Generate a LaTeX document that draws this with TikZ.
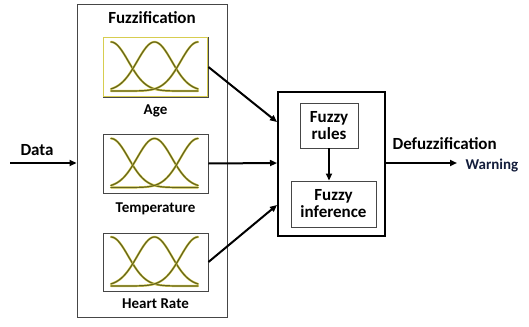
\documentclass[tikz,border=0pt]{standalone}
\usepackage{fontspec}
\setmainfont{Carlito}
\usetikzlibrary{arrows.meta}

\definecolor{curveolive}{RGB}{100,100,30}
\definecolor{curveglow}{RGB}{215,205,80}
\definecolor{frameGray}{RGB}{70,70,70}
\definecolor{warnInk}{RGB}{20,30,60}

\tikzset{
  big/.style={font=\bfseries\fontsize{17}{18}\selectfont},
  small/.style={font=\bfseries\fontsize{15}{17}\selectfont},
  mfbox/.style={draw=frameGray, line width=0.9pt, minimum width=105pt, inner sep=0pt},
  plainbox/.style={draw=frameGray, line width=0.9pt, inner sep=0pt, align=center,
    font=\bfseries\fontsize{17}{18}\selectfont},
  flow/.style={line width=2pt, -{Triangle[length=7pt,width=6pt]}},
  declare function={bell(\t,\m)=exp(0-((\t-\m)/24.5)*((\t-\m)/24.5));},
}

\begin{document}
\begin{tikzpicture}[x=1pt, y=-1pt]
\useasboundingbox (0,0) rectangle (529,326);

% fuzzification frame
\node[draw=frameGray, line width=0.9pt, minimum width=150pt, minimum height=313pt, inner sep=0pt]
  (fz) at (152,160.5) {};
\node[big, anchor=base] (fztitle) at (152,24) {Fuzzification};

% membership boxes
\node[mfbox, minimum height=60pt] (age) at (155.5,67) {};
\node[mfbox, minimum height=59pt] (temp) at (155.5,163.5) {};
\node[mfbox, minimum height=58pt] (hr) at (155.5,262) {};
\draw[curveglow, line width=0.8pt] ([shift={(1.3,1.3)}]age.north west) rectangle ([shift={(-1.3,-1.3)}]age.south east);

\node[small, anchor=base] (agel) at (155.5,114) {Age};
\node[small, anchor=base] (templ) at (155.5,212) {Temperature};
\node[small, anchor=base] (hrl) at (155.5,308) {Heart Rate};

% three bell-shaped membership functions per box
\foreach \cy in {67, 163.5, 262}{
  \foreach \mu in {111,154.5,198}{
    \draw[curveglow, line width=2.2pt, line cap=round]
      plot[variable=\t, domain=111:198, samples=90, smooth]
      (\t,{\cy+24-49*bell(\t,\mu)});
    \draw[curveolive, line width=1.2pt, line cap=round]
      plot[variable=\t, domain=111:198, samples=90, smooth]
      (\t,{\cy+24-49*bell(\t,\mu)});
  }
}

% inference engine
\node[draw, line width=2pt, minimum width=107pt, minimum height=144pt, inner sep=0pt]
  (eng) at (331.5,164) {};
\node[plainbox, minimum width=58pt, minimum height=45pt] (rules) at (329,125.5)
  {Fuzzy\\[-1pt]rules};
\node[plainbox, minimum width=85pt, minimum height=46pt] (inf) at (333.5,204)
  {Fuzzy\\[-1pt]inference};

\coordinate (inA) at (eng.west |- 0,122);
\coordinate (inB) at (eng.west |- 0,163);
\coordinate (inC) at (eng.west |- 0,205);
\coordinate (dataStart) at (10,163);
\coordinate (outEnd) at (457,163);

% connectors
\draw[flow] (age.east) -- (inA);
\draw[flow] (temp.east) -- (inB);
\draw[flow] (hr.east) -- (inC);
\draw[flow] (rules.south) -- (rules.south |- inf.north);
\draw[flow] (dataStart) -- (fz.west |- dataStart);
\draw[flow] (eng.east |- outEnd) -- (outEnd);

% labels
\node[big, anchor=base west] (datal) at (17,155) {Data};
\node[big, anchor=base west] (defl) at (389,149) {Defuzzification};
\node[small, anchor=base west, text=warnInk] (warn) at (462,169) {Warning};
\end{tikzpicture}
\end{document}
